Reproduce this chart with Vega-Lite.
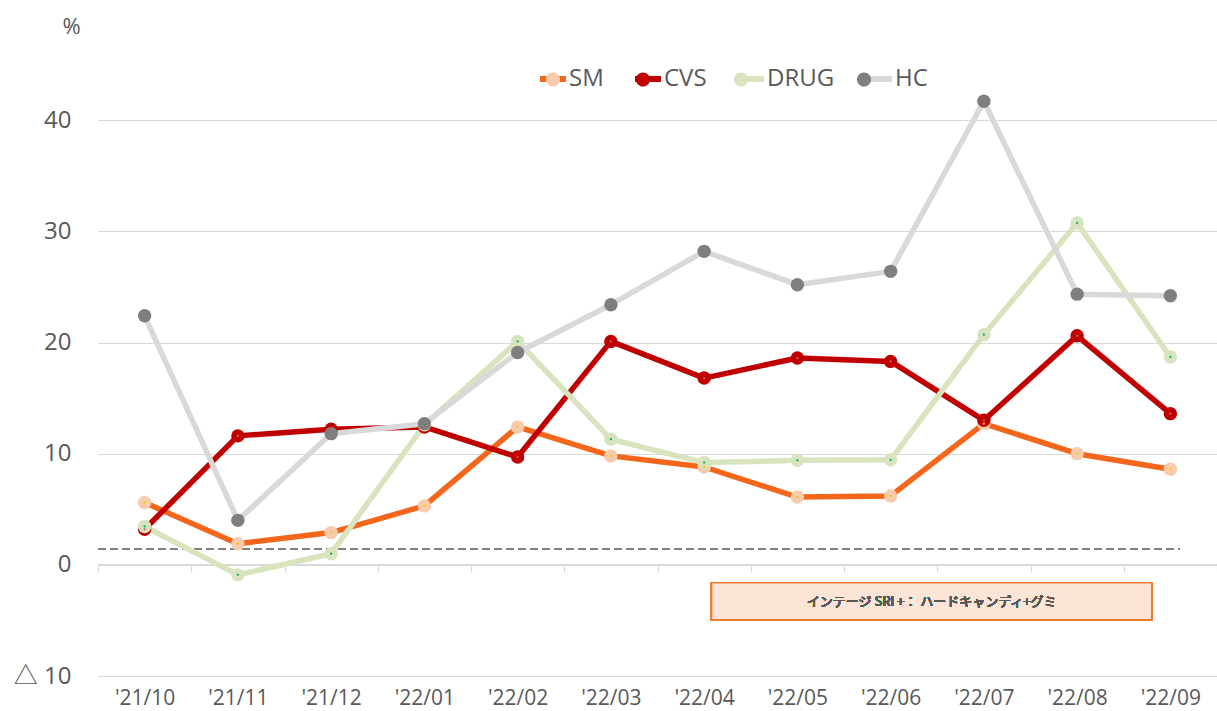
{
  "$schema": "https://vega.github.io/schema/vega-lite/v6.json",
  "width": 1119,
  "height": 667,
  "autosize": {"type": "none"},
  "padding": {"left": 98, "top": 9, "right": 0, "bottom": 35},
  "background": "#ffffff",
  "config": {
    "view": {"stroke": null},
    "font": "Open Sans",
    "axis": {"labelFont": "Open Sans", "titleFont": "Open Sans"},
    "legend": {"labelFont": "Open Sans"}
  },
  "data": {
    "values": [
      {"month": "'21/10", "series": "SM", "value": 5.6},
      {"month": "'21/11", "series": "SM", "value": 1.9},
      {"month": "'21/12", "series": "SM", "value": 2.9},
      {"month": "'22/01", "series": "SM", "value": 5.3},
      {"month": "'22/02", "series": "SM", "value": 12.4},
      {"month": "'22/03", "series": "SM", "value": 9.8},
      {"month": "'22/04", "series": "SM", "value": 8.8},
      {"month": "'22/05", "series": "SM", "value": 6.1},
      {"month": "'22/06", "series": "SM", "value": 6.2},
      {"month": "'22/07", "series": "SM", "value": 12.7},
      {"month": "'22/08", "series": "SM", "value": 10.0},
      {"month": "'22/09", "series": "SM", "value": 8.6},
      {"month": "'21/10", "series": "CVS", "value": 3.2},
      {"month": "'21/11", "series": "CVS", "value": 11.6},
      {"month": "'21/12", "series": "CVS", "value": 12.2},
      {"month": "'22/01", "series": "CVS", "value": 12.4},
      {"month": "'22/02", "series": "CVS", "value": 9.7},
      {"month": "'22/03", "series": "CVS", "value": 20.1},
      {"month": "'22/04", "series": "CVS", "value": 16.8},
      {"month": "'22/05", "series": "CVS", "value": 18.6},
      {"month": "'22/06", "series": "CVS", "value": 18.3},
      {"month": "'22/07", "series": "CVS", "value": 13.0},
      {"month": "'22/08", "series": "CVS", "value": 20.6},
      {"month": "'22/09", "series": "CVS", "value": 13.6},
      {"month": "'21/10", "series": "DRUG", "value": 3.45},
      {"month": "'21/11", "series": "DRUG", "value": -0.9},
      {"month": "'21/12", "series": "DRUG", "value": 1.0},
      {"month": "'22/01", "series": "DRUG", "value": 12.6},
      {"month": "'22/02", "series": "DRUG", "value": 20.1},
      {"month": "'22/03", "series": "DRUG", "value": 11.3},
      {"month": "'22/04", "series": "DRUG", "value": 9.2},
      {"month": "'22/05", "series": "DRUG", "value": 9.4},
      {"month": "'22/06", "series": "DRUG", "value": 9.45},
      {"month": "'22/07", "series": "DRUG", "value": 20.7},
      {"month": "'22/08", "series": "DRUG", "value": 30.75},
      {"month": "'22/09", "series": "DRUG", "value": 18.7},
      {"month": "'21/10", "series": "HC", "value": 22.4},
      {"month": "'21/11", "series": "HC", "value": 4.0},
      {"month": "'21/12", "series": "HC", "value": 11.8},
      {"month": "'22/01", "series": "HC", "value": 12.7},
      {"month": "'22/02", "series": "HC", "value": 19.1},
      {"month": "'22/03", "series": "HC", "value": 23.4},
      {"month": "'22/04", "series": "HC", "value": 28.2},
      {"month": "'22/05", "series": "HC", "value": 25.2},
      {"month": "'22/06", "series": "HC", "value": 26.4},
      {"month": "'22/07", "series": "HC", "value": 41.7},
      {"month": "'22/08", "series": "HC", "value": 24.35},
      {"month": "'22/09", "series": "HC", "value": 24.2}
    ]
  },
  "resolve": {"scale": {"x": "independent"}},
  "layer": [
    {
      "mark": {"type": "rule", "color": "#7f7f7f", "strokeWidth": 1.5, "strokeDash": [8, 4]},
      "encoding": {
        "x": {"datum": 0, "type": "quantitative", "scale": {"domain": [0, 12], "nice": false, "zero": false}, "axis": null},
        "x2": {"datum": 11.6},
        "y": {"datum": 1.4, "type": "quantitative"}
      }
    },
    {
      "encoding": {
        "x": {
          "field": "month", "type": "ordinal", "sort": null,
          "scale": {"type": "band", "paddingInner": 0, "paddingOuter": 0},
          "axis": {
            "orient": "bottom", "offset": -112, "title": null, "labelAngle": 0,
            "domainColor": "#d9d9d9", "domainWidth": 1.2,
            "tickColor": "#d9d9d9", "tickSize": 8, "tickWidth": 1.2, "tickBand": "extent",
            "labelFontSize": 21, "labelColor": "#595959", "labelPadding": 115
          }
        },
        "y": {
          "field": "value", "type": "quantitative",
          "scale": {"domain": [-10, 50], "nice": false, "zero": false},
          "axis": {
            "values": [-10, 0, 10, 20, 30, 40],
            "grid": true, "gridColor": "#d9d9d9", "gridWidth": 1.2,
            "domain": false, "ticks": false, "tickSize": 0,
            "labelExpr": "datum.value < 0 ? '△ ' + abs(datum.value) : datum.label",
            "labelFont": "Open Sans, Noto Sans CJK JP",
            "labelFontSize": 24, "labelColor": "#595959", "labelPadding": 27,
            "title": "%", "titleAngle": 0, "titleFontSize": 22, "titleFontWeight": "normal",
            "titleColor": "#595959", "titleX": -27, "titleY": 17,
            "titleAlign": "center", "titleBaseline": "middle"
          }
        }
      },
      "layer": [
        {
          "mark": {"type": "line", "strokeWidth": 5.5, "strokeJoin": "round"},
          "encoding": {
            "stroke": {
              "field": "series", "type": "nominal",
              "scale": {"domain": ["SM", "CVS", "DRUG", "HC"], "range": ["#f4661b", "#c00000", "#d7e4bd", "#d9d9d9"]},
              "legend": {
                "title": null, "orient": "none", "direction": "horizontal",
                "legendX": 439, "legendY": 54,
                "symbolType": "M-1,0H1", "symbolSize": 676, "symbolStrokeWidth": 6,
                "labelFontSize": 24, "labelColor": "#595959", "labelOffset": 0,
                "columnPadding": 19
              }
            }
          }
        },
        {
          "mark": {"type": "point", "filled": true, "size": 180, "opacity": 1, "strokeWidth": 0},
          "encoding": {
            "fill": {
              "field": "series", "type": "nominal",
              "scale": {"domain": ["SM", "CVS", "DRUG", "HC", "zz"], "range": ["#f8cbad", "#c00000", "#d7e4bd", "#7f7f7f", "#ffffff"]},
              "legend": {
                "values": ["SM", "CVS", "DRUG", "HC"],
                "title": null, "orient": "none", "direction": "horizontal",
                "legendX": 439, "legendY": 54,
                "symbolType": "M-0.54,0A0.54,0.54 0 1,1 0.54,0A0.54,0.54 0 1,1 -0.54,0Z", "symbolSize": 676,
                "symbolStrokeWidth": 6, "symbolStrokeColor": "transparent", "symbolOpacity": 1,
                "labelFontSize": 24, "labelColor": "#595959", "labelOffset": 0, "labelOpacity": 0,
                "columnPadding": 19
              }
            }
          }
        },
        {
          "mark": {"type": "point", "filled": true, "size": 5, "opacity": 1, "strokeWidth": 0},
          "encoding": {
            "color": {
              "field": "series", "type": "nominal",
              "scale": {"domain": ["SM", "CVS", "DRUG", "HC"], "range": ["#ffc000", "#c86464", "#00b050", "#7f7f7f"]},
              "legend": null
            }
          }
        }
      ]
    },
    {
      "mark": {"type": "rect", "fill": "#fce4d6", "stroke": "#ed7d31", "strokeWidth": 1.5},
      "encoding": {
        "x": {"datum": 6.58, "type": "quantitative", "scale": {"domain": [0, 12], "nice": false, "zero": false}, "axis": null},
        "x2": {"datum": 11.30},
        "y": {"datum": -1.62, "type": "quantitative"},
        "y2": {"datum": -4.95}
      }
    },
    {
      "mark": {"type": "text", "text": "インテージ SRI +：  ハードキャンディ+グミ", "font": "Noto Sans CJK JP", "fontSize": 13, "color": "#595959", "align": "center", "baseline": "middle"},
      "encoding": {
        "x": {"datum": 8.94, "type": "quantitative", "scale": {"domain": [0, 12], "nice": false, "zero": false}, "axis": null},
        "y": {"datum": -3.3, "type": "quantitative"}
      }
    }
  ]
}
